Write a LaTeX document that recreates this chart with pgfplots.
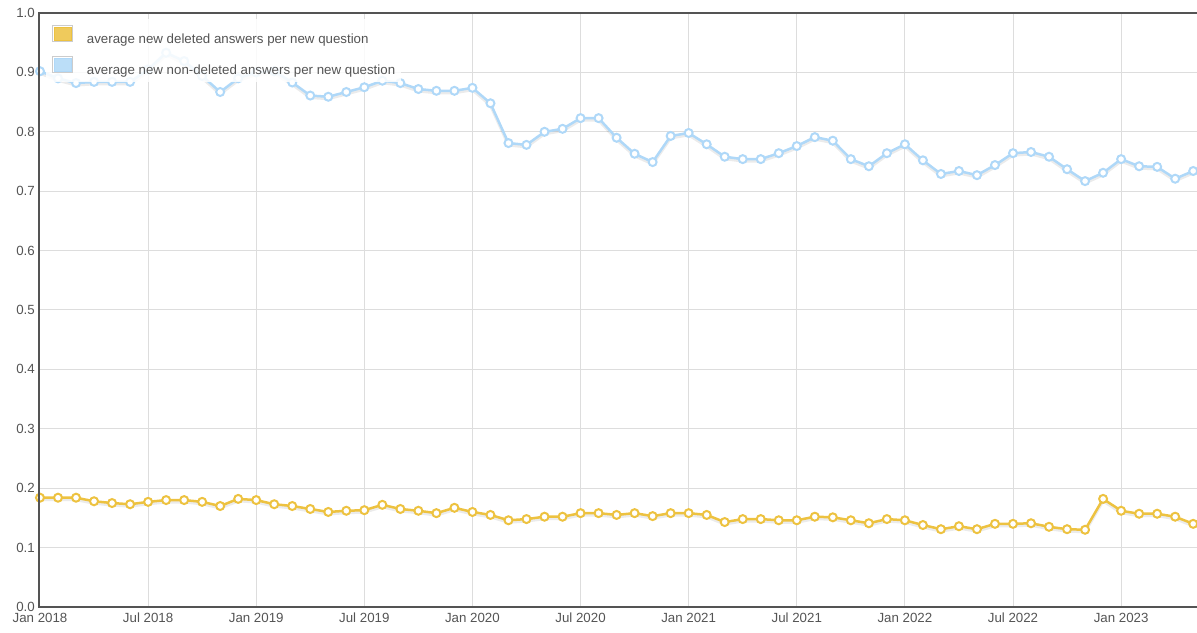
\documentclass[border=0pt]{standalone}
\usepackage{pgfplots}
\pgfplotsset{compat=1.18}
\usepackage{pgfplotstable}
\usepackage{fontspec}
\setmainfont{Liberation Sans}
\definecolor{fy}{HTML}{EDC240}
\definecolor{fb}{HTML}{AFD8F8}
\definecolor{axc}{HTML}{545454}
\definecolor{gridc}{HTML}{DDDDDD}

\pgfplotstableread{
i del nondel
0 0.184 0.902
1 0.184 0.890
2 0.184 0.882
3 0.178 0.884
4 0.175 0.884
5 0.173 0.884
6 0.177 0.905
7 0.180 0.933
8 0.180 0.919
9 0.177 0.894
10 0.170 0.867
11 0.182 0.890
12 0.180 0.900
13 0.173 0.902
14 0.170 0.883
15 0.165 0.861
16 0.160 0.859
17 0.162 0.867
18 0.163 0.875
19 0.172 0.886
20 0.165 0.882
21 0.162 0.872
22 0.158 0.869
23 0.167 0.869
24 0.160 0.874
25 0.155 0.848
26 0.146 0.781
27 0.148 0.778
28 0.152 0.800
29 0.152 0.805
30 0.158 0.823
31 0.158 0.823
32 0.155 0.790
33 0.158 0.763
34 0.153 0.749
35 0.158 0.793
36 0.158 0.798
37 0.155 0.779
38 0.143 0.758
39 0.148 0.754
40 0.148 0.754
41 0.146 0.764
42 0.146 0.776
43 0.152 0.791
44 0.151 0.785
45 0.146 0.754
46 0.141 0.742
47 0.148 0.764
48 0.146 0.779
49 0.138 0.752
50 0.131 0.729
51 0.136 0.734
52 0.131 0.727
53 0.140 0.744
54 0.140 0.764
55 0.141 0.766
56 0.135 0.758
57 0.131 0.737
58 0.130 0.717
59 0.182 0.731
60 0.162 0.754
61 0.157 0.742
62 0.157 0.741
63 0.152 0.721
64 0.140 0.734
}\datatable

\begin{document}
\begin{tikzpicture}
\useasboundingbox (-39bp,-26bp) rectangle (1158bp,607bp);
\begin{axis}[
  name=ax,
  scale only axis, width=1158bp, height=594bp,
  xmin=-0.055, xmax=64.21, ymin=0, ymax=1,
  axis line style={draw=none},
  xtick={0,6,12,18,24,30,36,42,48,54,60},
  xticklabels={Jan 2018,Jul 2018,Jan 2019,Jul 2019,Jan 2020,Jul 2020,Jan 2021,Jul 2021,Jan 2022,Jul 2022,Jan 2023},
  ytick={0,0.1,0.2,0.3,0.4,0.5,0.6,0.7,0.8,0.9,1.0},
  yticklabels={0.0,0.1,0.2,0.3,0.4,0.5,0.6,0.7,0.8,0.9,1.0},
  grid=major, major grid style={draw=gridc, line width=1bp},
  major tick length=0pt,
  tick style={draw=none},
  ticklabel style={font=\fontsize{13.3bp}{15bp}\selectfont, text=axc, inner sep=0pt},
  xticklabel style={anchor=north, yshift=-6bp},
  yticklabel style={anchor=east, xshift=-4bp},
  legend cell align=left,
  legend style={at={(rel axis cs:0,1)}, anchor=north west, xshift=7bp, yshift=-6bp,
    fill=white, fill opacity=0.85, text opacity=1, draw=none,
    font=\fontsize{13.3bp}{15bp}\selectfont, text=axc,
    nodes={inner sep=0pt}, row sep=11.5bp, inner xsep=6bp, inner ysep=6bp},
  clip=false,
]
\addlegendimage{legend image code/.code={
  \draw[draw=black!20, line width=1bp] (0bp,-2.5bp) rectangle (20bp,13.5bp);
  \fill[fy] (1.5bp,-1bp) rectangle (18.5bp,12bp);
  \path (34bp,0bp);}}
\addlegendentry{average new deleted answers per new question}
\addlegendimage{legend image code/.code={
  \draw[draw=black!20, line width=1bp] (0bp,-2.5bp) rectangle (20bp,13.5bp);
  \fill[fb] (1.5bp,-1bp) rectangle (18.5bp,12bp);
  \path (34bp,0bp);}}
\addlegendentry{average new non-deleted answers per new question}

\addplot[forget plot, black, opacity=0.08, line width=3bp, yshift=-2bp, no markers] table[x=i, y=del] {\datatable};
\addplot[forget plot, fy, line width=2.5bp, mark=*, mark size=4bp, mark options={fill=white, draw=fy, line width=2bp}] table[x=i, y=del] {\datatable};
\addplot[forget plot, black, opacity=0.08, line width=3bp, yshift=-2bp, no markers] table[x=i, y=nondel] {\datatable};
\addplot[forget plot, fb, line width=2.5bp, mark=*, mark size=4bp, mark options={fill=white, draw=fb, line width=2bp}] table[x=i, y=nondel] {\datatable};
\end{axis}
\draw[axc, line width=2.5bp] (ax.north east) -- (ax.north west) -- (ax.south west) -- (ax.south east);
\end{tikzpicture}
\end{document}
